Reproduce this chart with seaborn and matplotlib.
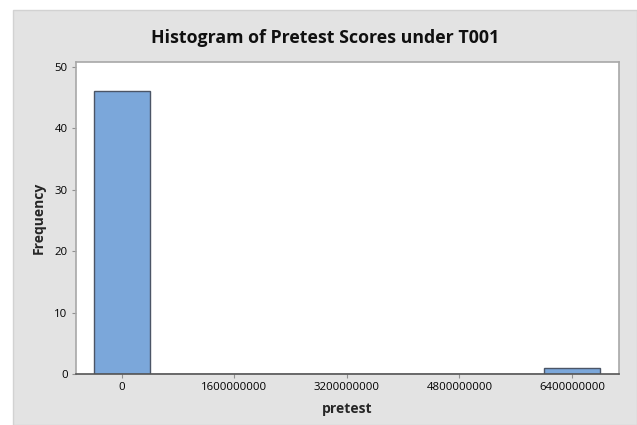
"""
Histogram of pretest scores under T001, redrawn with seaborn.
"""

# %% ---- Requirements and constants
import numpy as np
import seaborn as sns
import matplotlib
matplotlib.use('Agg')
import matplotlib.pyplot as plt
from matplotlib.patches import Rectangle

# bin midpoints (Minitab style, width 800000000) and their counts
bin_mids = [0, 6400000000]
bin_counts = [46, 1]
bin_width = 800000000

x_ticks = [0, 1600000000, 3200000000, 4800000000, 6400000000]
y_ticks = [0, 10, 20, 30, 40, 50]

title = 'Histogram of Pretest Scores under T001'
x_label = 'pretest'
y_label = 'Frequency'

# %% ---- Plot
sns.set_style('white')
plt.rcParams['font.family'] = ['Open Sans', 'DejaVu Sans']

fig = plt.figure(figsize=(6.37, 4.25), dpi=100)
fig.patch.set_facecolor('white')

# gray minitab panel, kept behind the axes
W, H = 637, 425
panel = Rectangle((13 / W, 0), 1 - 13 / W, (H - 10) / H,
                  transform=fig.transFigure, facecolor='#e3e3e3',
                  edgecolor='#d2d2d2', linewidth=1, zorder=-10)
fig.add_artist(panel)

ax = fig.add_axes([76 / W, (H - 374) / H, (619 - 76) / W, (374 - 62) / H])
ax.set_facecolor('white')
ax.set_zorder(1)

sns.histplot(x=bin_mids, weights=bin_counts, binwidth=bin_width,
             binrange=(-bin_width / 2, bin_mids[-1] + bin_width / 2),
             color='#7ba7da', edgecolor='#4b5566', linewidth=1, alpha=1,
             ax=ax)

ax.set_xlim(-654000000, 7070000000)
ax.set_ylim(0, 50.8)
ax.set_xticks(x_ticks)
ax.set_xticklabels([str(v) for v in x_ticks])
ax.set_yticks(y_ticks)
ax.tick_params(axis='both', labelsize=8.2, length=3, width=0.8,
               color='#909090', pad=3, labelcolor='#000000')
ax.tick_params(axis='x', bottom=True)
ax.tick_params(axis='y', left=True)

for side in ['top', 'right', 'left']:
    ax.spines[side].set_color('#a8a8a8')
    ax.spines[side].set_linewidth(1.2)
ax.spines['bottom'].set_color('#555555')
ax.spines['bottom'].set_linewidth(1.2)

ax.set_xlabel(x_label, fontsize=10, fontweight='bold', labelpad=6)
ax.set_ylabel(y_label, fontsize=10, fontweight='bold', labelpad=6)

fig.text(325 / W, (H - 38) / H, title, ha='center', va='center',
         fontsize=12.8, fontweight='bold', color='#101010')

fig.savefig('out.png', dpi=100, facecolor=fig.get_facecolor())
